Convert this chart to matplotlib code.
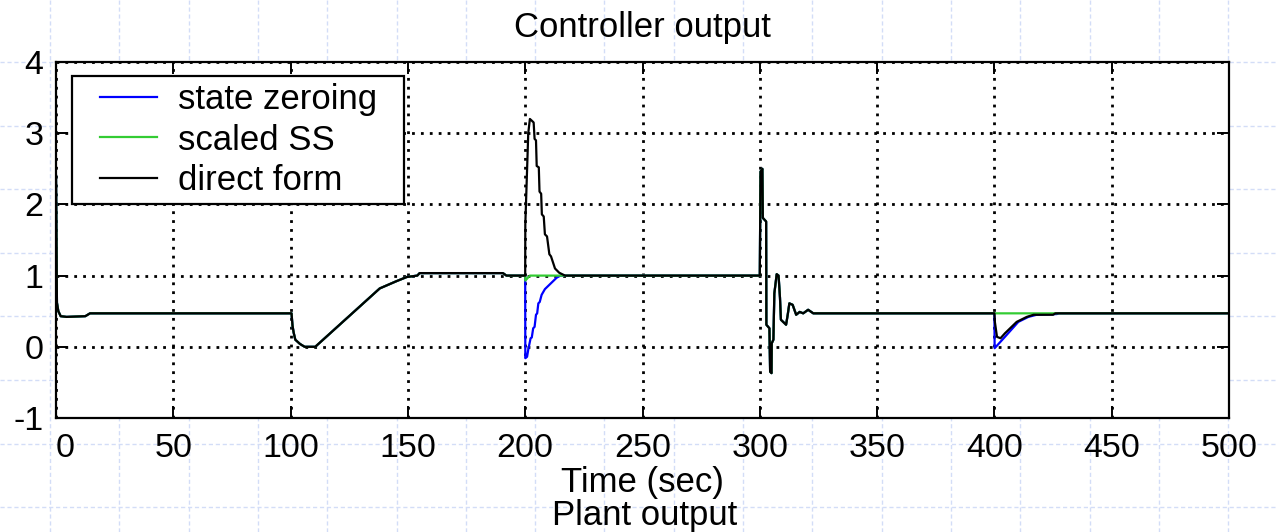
import numpy as np
import matplotlib
matplotlib.use("Agg")
import matplotlib.pyplot as plt
import matplotlib.transforms as mtransforms
from matplotlib.legend_handler import HandlerLine2D

plt.rcParams['font.family'] = ['Liberation Sans', 'DejaVu Sans']
plt.rcParams['axes.unicode_minus'] = False

# ---------------- data ----------------
title = "Controller output"
xlabel = "Time (sec)"
next_title = "Plant output"
series_names = ["state zeroing", "scaled SS", "direct form"]
xticks = [0, 50, 100, 150, 200, 250, 300, 350, 400, 450, 500]
yticks = [-1, 0, 1, 2, 3, 4]

# common part up to t=200
t_common_a = [0, 0.4, 1, 2, 4.5, 12.5, 14.5, 100.4, 100.8, 101.3, 102, 104, 106, 110.5,
              138, 145, 149.5, 154, 155, 190.5, 192, 200]
y_common_a = [2.4, 0.62, 0.5, 0.43, 0.42, 0.43, 0.47, 0.47, 0.3, 0.2, 0.1, 0.04, 0.0, 0.0,
              0.82, 0.92, 0.98, 1.0, 1.035, 1.035, 1.0, 1.0]

# direct form transient at 200
t_direct_200 = [200.05, 201.3, 202.0, 203.0, 203.6, 204.0, 204.6, 204.9, 205.8, 206.1, 206.8,
                207.1, 207.9, 208.4, 209.3, 210.3, 211.0, 212.7, 214.5, 217]
y_direct_200 = [1.72, 3.0, 3.2, 3.17, 3.15, 2.92, 2.9, 2.54, 2.52, 2.18, 2.15,
                1.86, 1.83, 1.58, 1.55, 1.3, 1.27, 1.1, 1.04, 1.0]

# state zeroing transient at 200
t_zero_200 = [200.05, 200.8, 201.3, 202.3, 202.8, 203.4, 204.0, 204.6, 205.1, 205.6, 206.2,
              207.0, 208.4, 213.4, 215]
y_zero_200 = [-0.16, -0.14, -0.04, 0.12, 0.13, 0.26, 0.28, 0.45, 0.47, 0.61, 0.63,
              0.73, 0.81, 0.97, 1.0]

# scaled SS transient at 200
t_ss_200 = [200.05, 202]
y_ss_200 = [0.93, 1.0]

# common part t=300 .. 400 (all three overlap)
t_common_b = [300, 300.3, 301.1, 301.3, 302.7, 302.8, 304.1, 304.4, 305.0, 305.1, 305.8, 306.2,
              307.2, 308.0, 308.6, 309.0, 311.2, 311.9, 312.6, 314.0, 315.5, 317.0, 318.5,
              320.6, 322.8, 400]
y_common_b = [1.0, 2.46, 2.5, 1.81, 1.76, 0.31, 0.26, -0.35, -0.37, 0.05, 0.1, 0.75,
              1.02, 1.0, 0.69, 0.38, 0.31, 0.45, 0.61, 0.59, 0.45, 0.49, 0.47,
              0.52, 0.47, 0.47]

# transients at 400
t_direct_400 = [400.2, 401.1, 402.6, 404.5, 409.5, 413.8, 416.7, 425, 426, 500]
y_direct_400 = [0.35, 0.14, 0.12, 0.19, 0.35, 0.42, 0.45, 0.45, 0.47, 0.47]
t_zero_400 = [400.1, 404.5, 410.2, 414.5, 418.0, 426.6, 427.5, 500]
y_zero_400 = [-0.02, 0.14, 0.35, 0.42, 0.45, 0.46, 0.47, 0.47]
t_ss_400 = [500]
y_ss_400 = [0.47]

t_zero = t_common_a + t_zero_200 + t_common_b + t_zero_400
y_zero = y_common_a + y_zero_200 + y_common_b + y_zero_400
t_ss = t_common_a + t_ss_200 + t_common_b + t_ss_400
y_ss = y_common_a + y_ss_200 + y_common_b + y_ss_400
t_direct = t_common_a + t_direct_200 + t_common_b + t_direct_400
y_direct = y_common_a + y_direct_200 + y_common_b + y_direct_400

colors = ['#0000ff', '#33cc33', '#000000']

# ---------------- figure ----------------
W, H = 1276, 532
fig = plt.figure(figsize=(W / 100, H / 100), dpi=100)
fig.patch.set_facecolor('white')

# slide background grid
bg = fig.add_axes([0, 0, 1, 1], zorder=0)
bg.set_xlim(0, W)
bg.set_ylim(H, 0)
bg.axis('off')
for k in range(19):
    bg.axvline(50 + 69.3 * k, color='#d3ddf7', lw=1.0, ls=(0, (3, 2)))
for k in range(9):
    bg.axhline(62 + 63.6 * k, color='#d3ddf7', lw=1.0, ls=(0, (3, 2)))

ax = fig.add_axes([56 / W, 1 - 418 / H, (1229 - 56) / W, (418 - 62) / H], zorder=1)
ax.set_facecolor('white')

lw = 1.6
ax.plot(t_zero, y_zero, color=colors[0], lw=lw, label=series_names[0])
ax.plot(t_ss, y_ss, color=colors[1], lw=lw, label=series_names[1])
ax.plot(t_direct, y_direct, color=colors[2], lw=lw, label=series_names[2])

ax.set_xlim(0, 500)
ax.set_ylim(-1, 4)
ax.set_xticks(xticks)
ax.set_yticks(yticks)
ax.tick_params(direction='in', length=8.5, width=1.4, top=True, right=True,
               labelsize=24.5, colors='black')
ax.tick_params(axis='x', pad=11)
ax.tick_params(axis='y', pad=9)
for s in ax.spines.values():
    s.set_linewidth(1.6)
ax.grid(True, color='black', linestyle=(0, (1.0, 2.2)), linewidth=2.0)

ax.set_title(title, fontsize=25, pad=18)
ax.set_xlabel(xlabel, fontsize=25, labelpad=1)
fig.text(645 / W, 1 - 516 / H, next_title, fontsize=25, ha='center', va='center')

# nudge the "0" tick label like the original
off = mtransforms.ScaledTranslation(9 / 100, 0, fig.dpi_scale_trans)
lab0 = ax.get_xticklabels()[0]
lab0.set_transform(lab0.get_transform() + off)

leg = ax.legend(loc='upper left',
                bbox_to_anchor=(16 / 1173, 0, 332 / 1173, 1 - 14 / 356),
                mode='expand',
                borderaxespad=0, fontsize=25, fancybox=False, framealpha=1,
                edgecolor='black', borderpad=0.2, labelspacing=0.22,
                handletextpad=0.0, handlelength=2.85,
                handler_map={plt.Line2D: HandlerLine2D(numpoints=2, marker_pad=0.6)})
leg.get_frame().set_linewidth(1.6)

fig.savefig('out.png', dpi=100)
